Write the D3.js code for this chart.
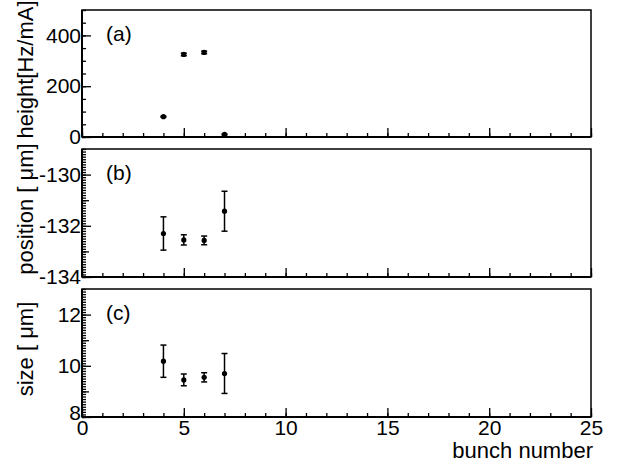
<!DOCTYPE html>
<html>
<head>
<meta charset="utf-8">
<script src="https://cdn.jsdelivr.net/npm/d3@7"></script>
<style>
  body { margin: 0; background: #fff; }
</style>
</head>
<body>
<script>
// bunch numbers and the three measured quantities
const bunch = [4, 5, 6, 7];
const heightVal = [80, 325, 333, 10];
const heightErr = [2, 5, 5, 2];
const posVal = [-132.3, -132.55, -132.57, -131.43];
const posErr = [0.65, 0.2, 0.17, 0.78];
const sizeVal = [10.18, 9.45, 9.55, 9.7];
const sizeErr = [0.63, 0.23, 0.18, 0.78];

const panelTitles = ["height[Hz/mA]", "position [ \u03bcm]", "size [ \u03bcm]"];
const panelTags = ["(a)", "(b)", "(c)"];
const xTicks = [0, 5, 10, 15, 20, 25];

const width = 633, height = 470;
const left = 82, right = 591;
const font = "'Liberation Sans', Arial, sans-serif";

const svg = d3.select("body").append("svg")
    .attr("width", width)
    .attr("height", height)
    .style("font-family", font);

const x = d3.scaleLinear().domain([0, 25]).range([left, right]);

const panels = [
    { top: 10, bottom: 137, domain: [0, 500], major: [0, 200, 400], mid: [], minor: d3.range(0, 501, 50), vals: heightVal, errs: heightErr },
    { top: 149, bottom: 277, domain: [-134, -129], major: [-134, -132, -130], mid: [-133, -131], minor: d3.range(-134, -128.95, 0.1), vals: posVal, errs: posErr },
    { top: 289, bottom: 417, domain: [8, 13], major: [8, 10, 12], mid: [9, 11], minor: d3.range(8, 13.05, 0.1), vals: sizeVal, errs: sizeErr }
];

// plain hyphen minus, like the original
const plain = d => String(d);

panels.forEach((p, i) => {
    const y = d3.scaleLinear().domain(p.domain).range([p.bottom, p.top]);
    const g = svg.append("g");

    // frame
    g.append("rect")
        .attr("x", left).attr("y", p.top)
        .attr("width", right - left).attr("height", p.bottom - p.top)
        .attr("fill", "none").attr("stroke", "#000").attr("stroke-width", 1.5);

    // y minor ticks
    g.append("g")
        .attr("transform", `translate(${left},0)`)
        .call(d3.axisLeft(y).tickValues(p.minor).tickSize(-4).tickFormat(""))
        .call(a => a.select(".domain").remove());
    if (p.mid.length) {
        g.append("g")
            .attr("transform", `translate(${left},0)`)
            .call(d3.axisLeft(y).tickValues(p.mid).tickSize(-7).tickFormat(""))
            .call(a => a.select(".domain").remove());
    }
    // y major ticks with labels
    g.append("g")
        .attr("transform", `translate(${left},0)`)
        .call(d3.axisLeft(y).tickValues(p.major).tickSize(-9).tickPadding(1).tickFormat(plain))
        .call(a => a.select(".domain").remove())
        .call(a => a.selectAll("text").attr("font-size", 21).attr("font-family", font).attr("fill", "#000"))
        // lowest label of the bottom panel sits a little higher so it clears the x "0"
        .call(a => { if (i === 2) a.selectAll("text").filter(d => d === p.major[0]).attr("dy", "0.1em"); });

    // x minor + major ticks
    g.append("g")
        .attr("transform", `translate(0,${p.bottom})`)
        .call(d3.axisBottom(x).tickValues(d3.range(0, 26, 1)).tickSize(-4).tickFormat(""))
        .call(a => a.select(".domain").remove());
    g.append("g")
        .attr("transform", `translate(0,${p.bottom})`)
        .call(d3.axisBottom(x).tickValues(xTicks).tickSize(-9).tickPadding(3)
            .tickFormat(i === 2 ? plain : ""))
        .call(a => a.select(".domain").remove())
        .call(a => a.selectAll("text").attr("font-size", 21).attr("font-family", font).attr("fill", "#000"));

    g.selectAll(".tick line").attr("stroke", "#000").attr("stroke-width", 1.3);

    // thicker axis lines
    g.append("line").attr("x1", left).attr("x2", left).attr("y1", p.top).attr("y2", p.bottom)
        .attr("stroke", "#000").attr("stroke-width", 2);
    g.append("line").attr("x1", left).attr("x2", right).attr("y1", p.bottom).attr("y2", p.bottom)
        .attr("stroke", "#000").attr("stroke-width", 2);

    // axis title
    g.append("text")
        .attr("transform", `translate(33,${(p.top + p.bottom) / 2 - 4}) rotate(-90)`)
        .attr("text-anchor", "middle")
        .attr("font-size", 22)
        .text(panelTitles[i]);

    // panel tag
    g.append("text")
        .attr("x", 106).attr("y", p.top + 31)
        .attr("font-size", 21)
        .text(panelTags[i]);

    // error bars
    const pts = bunch.map((b, k) => ({ b, v: p.vals[k], e: p.errs[k] }));
    const eg = g.append("g").attr("stroke", "#000").attr("stroke-width", 1.5);
    eg.selectAll(".bar").data(pts).join("line")
        .attr("x1", d => x(d.b)).attr("x2", d => x(d.b))
        .attr("y1", d => y(d.v - d.e)).attr("y2", d => y(d.v + d.e));
    eg.selectAll(".capHi").data(pts).join("line")
        .attr("x1", d => x(d.b) - 3).attr("x2", d => x(d.b) + 3)
        .attr("y1", d => y(d.v + d.e)).attr("y2", d => y(d.v + d.e));
    eg.selectAll(".capLo").data(pts).join("line")
        .attr("x1", d => x(d.b) - 3).attr("x2", d => x(d.b) + 3)
        .attr("y1", d => y(d.v - d.e)).attr("y2", d => y(d.v - d.e));
    g.append("g").selectAll("circle").data(pts).join("circle")
        .attr("cx", d => x(d.b)).attr("cy", d => y(d.v))
        .attr("r", 2.6).attr("fill", "#000");
});

// x-axis title
svg.append("text")
    .attr("x", 593).attr("y", 458)
    .attr("text-anchor", "end")
    .attr("font-size", 22)
    .text("bunch number");
</script>
</body>
</html>
